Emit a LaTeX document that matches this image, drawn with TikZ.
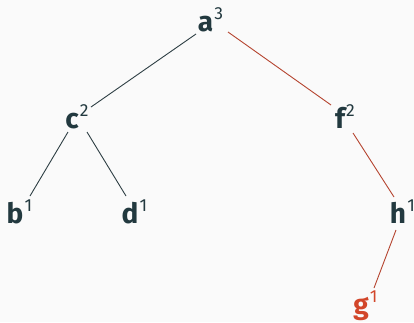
\documentclass[tikz,border=0pt]{standalone}
\usepackage{fontspec}
\setmainfont{Fira Sans}
\usetikzlibrary{calc}
\definecolor{ink}{HTML}{22393F}
\definecolor{edgedark}{HTML}{2E3F44}
\definecolor{edgered}{HTML}{B5442F}
\definecolor{hot}{HTML}{D2462A}
\definecolor{bg}{HTML}{FAFAFA}
\newcommand\supnum[1]{\rlap{\kern1.2pt\raisebox{11.5pt}{\fontsize{17.5}{17.5}\selectfont\mdseries #1}}}
\begin{document}
\begin{tikzpicture}[x=1pt,y=-1pt,
  lbl/.style={anchor=base,inner sep=0pt,text=ink,font=\fontsize{28}{28}\selectfont\bfseries},
  hotlbl/.style={lbl,text=hot},
  darkedge/.style={draw=edgedark,line width=0.9pt},
  rededge/.style={draw=edgered,line width=0.9pt}]
\fill[bg] (0,0) rectangle (414,322);
\useasboundingbox (0,0) rectangle (414,322);
\node[lbl] (a) at (205.5,31) {a\supnum{3}};
\node[lbl] (c) at (72,128) {c\supnum{2}};
\node[lbl] (f) at (340,128) {f\supnum{2}};
\node[lbl] (b) at (15,223) {b\supnum{1}};
\node[lbl] (d) at (130,223) {d\supnum{1}};
\node[lbl] (h) at (398,223) {h\supnum{1}};
\node[hotlbl] (g) at (361,314) {g\supnum{1}};
\draw[darkedge] ($(a.base)+(-9.5,3)$) -- ($(c.base)+(19,-21)$);
\draw[rededge] ($(a.base)+(22.5,1)$) -- ($(f.base)+(-9,-23)$);
\draw[darkedge] ($(c.base)+(-4,4)$) -- ($(b.base)+(15,-27)$);
\draw[darkedge] ($(c.base)+(15,4)$) -- ($(d.base)+(-4,-27)$);
\draw[rededge] ($(f.base)+(13,5)$) -- ($(h.base)+(-4,-26)$);
\draw[rededge] ($(h.base)+(-2,7)$) -- ($(g.base)+(13,-26)$);
\end{tikzpicture}
\end{document}
